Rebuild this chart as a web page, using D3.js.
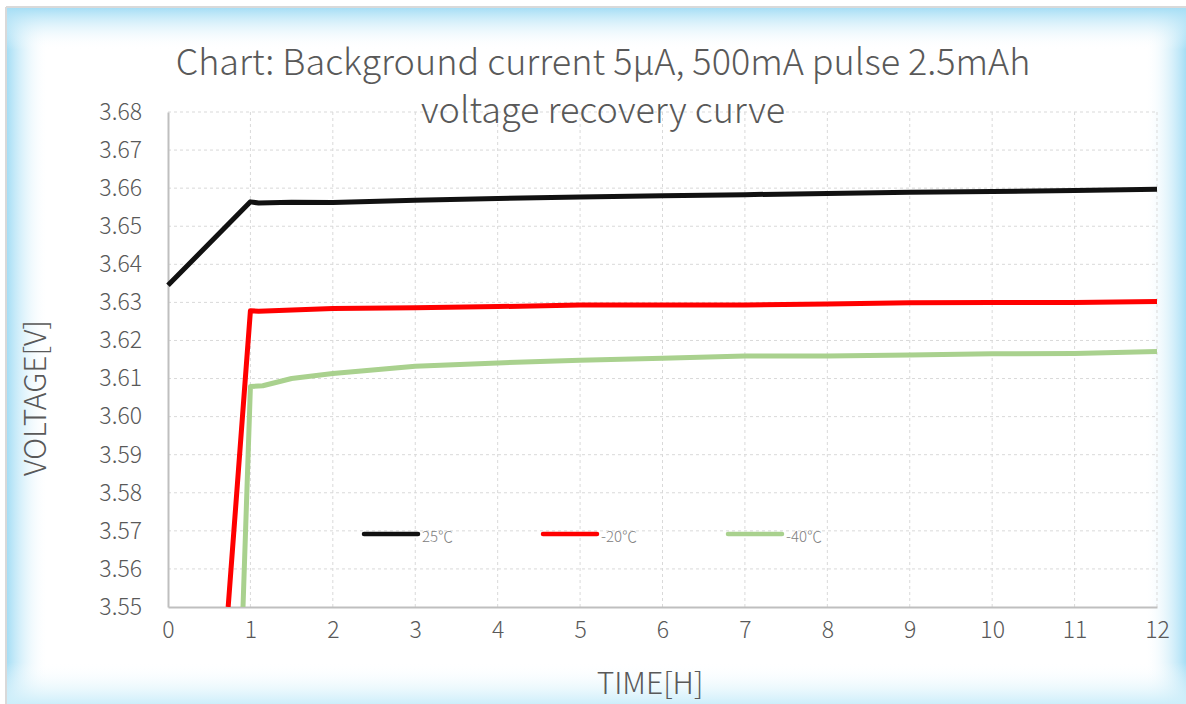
<!DOCTYPE html>
<html>
<head>
<meta charset="utf-8">
<script src="https://cdn.jsdelivr.net/npm/d3@7"></script>
<style>
  body { margin: 0; background: #fff; }
  text { font-family: "Noto Sans CJK SC", "Noto Sans", sans-serif; }
</style>
</head>
<body>
<script>
// chart data
var xTicks = [0, 1, 2, 3, 4, 5, 6, 7, 8, 9, 10, 11, 12];
var yTicks = [3.55, 3.56, 3.57, 3.58, 3.59, 3.60, 3.61, 3.62, 3.63, 3.64, 3.65, 3.66, 3.67, 3.68];
var seriesNames = ["25\u2103", "-20\u2103", "-40\u2103"];
var seriesColors = ["#111111", "#ff0000", "#a9d18e"];

var hours25 = [0, 1, 1.1, 1.5, 2, 3, 4, 5, 6, 7, 8, 9, 10, 11, 12];
var volts25 = [3.6345, 3.6564, 3.6561, 3.6563, 3.6562, 3.6568, 3.6573, 3.6577, 3.6580, 3.6583, 3.6586, 3.6589, 3.6591, 3.6594, 3.6597];

var hoursM20 = [0.73, 1, 1.1, 2, 3, 4, 5, 6, 7, 8, 9, 10, 11, 12];
var voltsM20 = [3.55, 3.6278, 3.6277, 3.6284, 3.6286, 3.6289, 3.6293, 3.6293, 3.6293, 3.6296, 3.6299, 3.6300, 3.6300, 3.6302];

var hoursM40 = [0.91, 1, 1.15, 1.5, 2, 3, 4, 5, 6, 7, 8, 9, 10, 11, 12];
var voltsM40 = [3.55, 3.6079, 3.6081, 3.6100, 3.6113, 3.6132, 3.6141, 3.6148, 3.6153, 3.6159, 3.6159, 3.6162, 3.6165, 3.6166, 3.6171];

var width = 1186, height = 704;
var margin = {left: 168, right: 29, top: 112, bottom: 97};

var svg = d3.select("body").append("svg")
    .attr("width", width)
    .attr("height", height);

// panel background with the pale blue glow at the edges
var defs = svg.append("defs");
var gl = defs.append("linearGradient").attr("id", "glowH");
gl.append("stop").attr("offset", "0").attr("stop-color", "#a6def5");
gl.append("stop").attr("offset", "0.035").attr("stop-color", "#ffffff").attr("stop-opacity", 0);
gl.append("stop").attr("offset", "0.965").attr("stop-color", "#ffffff").attr("stop-opacity", 0);
gl.append("stop").attr("offset", "1").attr("stop-color", "#a6def5");
var gv = defs.append("linearGradient").attr("id", "glowV")
    .attr("x1", 0).attr("y1", 0).attr("x2", 0).attr("y2", 1);
gv.append("stop").attr("offset", "0").attr("stop-color", "#a6def5");
gv.append("stop").attr("offset", "0.06").attr("stop-color", "#ffffff").attr("stop-opacity", 0);
gv.append("stop").attr("offset", "0.94").attr("stop-color", "#ffffff").attr("stop-opacity", 0);
gv.append("stop").attr("offset", "1").attr("stop-color", "#cdeefa");

svg.append("rect").attr("x", 0).attr("y", 0).attr("width", width).attr("height", height).attr("fill", "#ffffff");
svg.append("rect").attr("x", 7).attr("y", 8).attr("width", width - 7).attr("height", height - 8).attr("fill", "url(#glowH)");
svg.append("rect").attr("x", 7).attr("y", 8).attr("width", width - 7).attr("height", height - 8).attr("fill", "url(#glowV)");
svg.append("line").attr("x1", 6).attr("x2", width).attr("y1", 7).attr("y2", 7)
    .attr("stroke", "#d9d9d9").attr("stroke-width", 2);
svg.append("line").attr("x1", 6).attr("x2", 6).attr("y1", 7).attr("y2", height)
    .attr("stroke", "#d9d9d9").attr("stroke-width", 2);

var x = d3.scaleLinear().domain([0, 12]).range([margin.left, width - margin.right]);
var y = d3.scaleLinear().domain([3.55, 3.68]).range([height - margin.bottom, margin.top]);

// grid
svg.append("g").selectAll("line").data(yTicks.slice(1)).enter().append("line")
    .attr("x1", x(0)).attr("x2", x(12))
    .attr("y1", function(d) { return y(d); }).attr("y2", function(d) { return y(d); })
    .attr("stroke", "#d9d9d9").attr("stroke-dasharray", "3,3");
svg.append("g").selectAll("line").data(xTicks.slice(1)).enter().append("line")
    .attr("x1", function(d) { return x(d); }).attr("x2", function(d) { return x(d); })
    .attr("y1", y(3.68)).attr("y2", y(3.55))
    .attr("stroke", "#d9d9d9").attr("stroke-dasharray", "3,3");

// axes
var xAxis = svg.append("g").attr("transform", "translate(0," + y(3.55) + ")")
    .call(d3.axisBottom(x).tickValues(xTicks).tickSize(0).tickPadding(15).tickFormat(d3.format("d")));
var yAxis = svg.append("g").attr("transform", "translate(" + x(0) + ",0)")
    .call(d3.axisLeft(y).tickValues(yTicks).tickSize(0).tickPadding(26).tickFormat(d3.format(".2f")));
[xAxis, yAxis].forEach(function(a) {
  a.select(".domain").attr("stroke", "#bfbfbf").attr("stroke-width", 2);
  a.selectAll("text").attr("fill", "#595959").style("font-size", "23px")
    .style("font-family", "'Noto Sans CJK SC', sans-serif").style("font-weight", 300);
});

// curves
svg.append("clipPath").attr("id", "plotClip").append("rect")
    .attr("x", x(0) - 3).attr("y", y(3.68) - 3)
    .attr("width", x(12) - x(0) + 6).attr("height", y(3.55) - y(3.68) + 3);

var line = d3.line()
    .x(function(d) { return x(d[0]); })
    .y(function(d) { return y(d[1]); });

var series = [d3.zip(hours25, volts25), d3.zip(hoursM20, voltsM20), d3.zip(hoursM40, voltsM40)];
svg.append("g").attr("clip-path", "url(#plotClip)")
  .selectAll("path").data(series).enter().append("path")
    .attr("d", line)
    .attr("fill", "none")
    .attr("stroke", function(d, i) { return seriesColors[i]; })
    .attr("stroke-width", 5)
    .attr("stroke-linejoin", "round");

// legend
var legendX = [364, 543, 728];
var lg = svg.append("g").selectAll("g").data(seriesNames).enter().append("g")
    .attr("transform", function(d, i) { return "translate(" + legendX[i] + ",534)"; });
lg.append("line").attr("x1", 0).attr("x2", 54).attr("y1", 0).attr("y2", 0)
    .attr("stroke", function(d, i) { return seriesColors[i]; })
    .attr("stroke-width", 4.5).attr("stroke-linecap", "round");
lg.append("text").attr("x", 58).attr("y", 8).text(function(d) { return d; })
    .attr("fill", "#808080").style("font-size", "15px").style("font-weight", 300);

// titles
svg.append("text").attr("x", 603).attr("y", 75).attr("text-anchor", "middle")
    .attr("fill", "#595959").style("font-size", "36px").style("font-weight", 300)
    .text("Chart: Background current 5\u03bcA, 500mA pulse 2.5mAh");
svg.append("text").attr("x", 603).attr("y", 123).attr("text-anchor", "middle")
    .attr("fill", "#595959").style("font-size", "36px").style("font-weight", 300)
    .text("voltage recovery curve");
svg.append("text").attr("x", 650).attr("y", 694).attr("text-anchor", "middle")
    .attr("fill", "#595959").style("font-size", "30px").style("font-weight", 300)
    .text("TIME[H]");
svg.append("text").attr("transform", "translate(46,398) rotate(-90)").attr("text-anchor", "middle")
    .attr("fill", "#595959").style("font-size", "30px").style("font-weight", 300)
    .text("VOLTAGE[V]");
</script>
</body>
</html>
